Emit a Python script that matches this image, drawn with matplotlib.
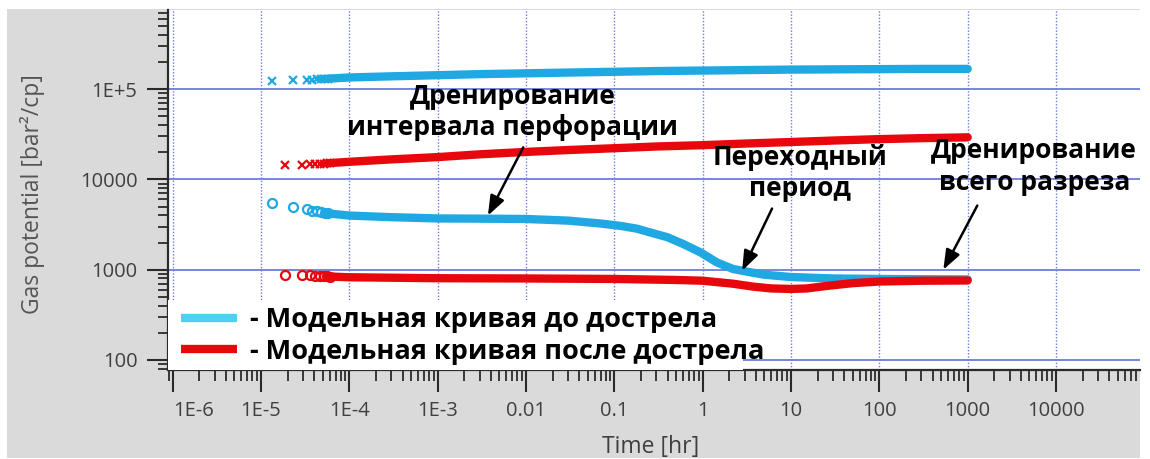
import matplotlib
matplotlib.use("Agg")
import matplotlib.pyplot as plt
from matplotlib.lines import Line2D
from matplotlib.patches import Rectangle
from matplotlib.ticker import FixedLocator, NullFormatter

# ---- data: gas potential vs time, model before / after re-perforation ----
# potential curve before re-perforation (upper, cross markers)
t_pre_pot = [1.33e-5, 2.3e-5, 3.3e-5, 3.8e-5, 4.3e-5, 4.8e-5, 5.3e-5, 5.8e-5,
             1e-4, 3e-4, 1e-3, 3e-3, 1e-2, 3e-2, 0.1, 0.3, 1, 3, 10, 30, 100, 300, 1000]
pre_pot = [1.24e5, 1.26e5, 1.27e5, 1.28e5, 1.29e5, 1.30e5, 1.30e5, 1.31e5,
           1.35e5, 1.39e5, 1.43e5, 1.47e5, 1.50e5, 1.53e5, 1.56e5, 1.59e5, 1.61e5,
           1.63e5, 1.65e5, 1.66e5, 1.67e5, 1.68e5, 1.68e5]

# potential curve after re-perforation (upper, cross markers)
t_post_pot = [1.87e-5, 2.9e-5, 3.6e-5, 4.1e-5, 4.6e-5, 5.1e-5, 5.6e-5, 6.1e-5,
              1e-4, 3e-4, 1e-3, 3e-3, 1e-2, 3e-2, 0.1, 0.3, 1, 3, 10, 30, 100, 300, 1000]
post_pot = [1.43e4, 1.45e4, 1.47e4, 1.48e4, 1.49e4, 1.50e4, 1.51e4, 1.52e4,
            1.57e4, 1.67e4, 1.77e4, 1.90e4, 2.02e4, 2.12e4, 2.22e4, 2.32e4, 2.40e4,
            2.50e4, 2.60e4, 2.70e4, 2.80e4, 2.87e4, 2.93e4]

# derivative before re-perforation (lower, circle markers)
t_pre_der = [1.33e-5, 2.3e-5, 3.3e-5, 3.8e-5, 4.3e-5, 4.8e-5, 5.3e-5, 5.8e-5,
             1e-4, 3e-4, 1e-3, 3e-3, 1e-2, 3e-2, 7e-2, 0.12, 0.18, 0.25, 0.4, 0.6,
             0.94, 1.46, 2.2, 3.5, 5, 10, 30, 100, 300, 1000]
pre_der = [5550, 5000, 4650, 4520, 4420, 4330, 4260, 4200,
           3980, 3820, 3700, 3680, 3650, 3500, 3250, 3050, 2850, 2600, 2290, 1930,
           1560, 1200, 1020, 935, 880, 830, 800, 790, 785, 780]

# derivative after re-perforation (lower, circle markers)
t_post_der = [1.87e-5, 2.9e-5, 3.6e-5, 4.1e-5, 4.6e-5, 5.1e-5, 5.6e-5, 6.1e-5,
              1e-4, 1e-3, 1e-2, 0.1, 0.5, 1, 2.2, 3.7, 6, 10, 15, 25, 50, 100, 300, 1000]
post_der = [880, 875, 865, 860, 855, 850, 845, 840,
            825, 805, 800, 790, 770, 755, 700, 650, 620, 612, 620, 660, 710, 740, 755, 760]

x_ticks = [1e-6, 1e-5, 1e-4, 1e-3, 1e-2, 0.1, 1, 10, 100, 1000, 1e4]
x_labels = ["1E-6", "1E-5", "1E-4", "1E-3", "0.01", "0.1", "1", "10", "100", "1000", "10000"]
y_ticks = [100, 1000, 1e4, 1e5]
y_labels = ["100", "1000", "10000", "1E+5"]

legend_labels = ["- Модельная кривая до дострела", "- Модельная кривая после дострела"]

# ---- style ----
BLUE = "#1fa8e2"
RED = "#e8070d"
BLUE_LEG = "#4fd0f0"
GRID = "#6b7ddc"
TXT = "#404040"
FONT = "Open Sans"

W, H = 1150, 459
fig = plt.figure(figsize=(W / 100, H / 100), dpi=100)
fig.patch.set_facecolor("white")

# grey panel behind the axes
fig.patches.append(Rectangle((7 / W, 1 / H), (1140 - 7) / W, (458 - 9) / H,
                             transform=fig.transFigure, facecolor="#dadada",
                             edgecolor="none", zorder=-5))

ax = fig.add_axes([168 / W, (H - 370) / H, (1140 - 168) / W, 360 / H])
ax.set_facecolor("white")
ax.set_xscale("log")
ax.set_yscale("log")
ax.set_xlim(8.85e-7, 8.93e4)
ax.set_ylim(77.4, 7.55e5)

for s in ("top", "right"):
    ax.spines[s].set_visible(False)
for s in ("left", "bottom"):
    ax.spines[s].set_color("#2a2a2a")
    ax.spines[s].set_linewidth(1.6)

ax.xaxis.set_major_locator(FixedLocator(x_ticks))
ax.set_xticklabels(x_labels)
ax.yaxis.set_major_locator(FixedLocator(y_ticks))
ax.set_yticklabels(y_labels)
x_minor = [m * 10.0 ** e for e in range(-7, 5) for m in range(2, 10)]
y_minor = [m * 10.0 ** e for e in range(1, 6) for m in range(2, 10)]
ax.xaxis.set_minor_locator(FixedLocator(x_minor))
ax.yaxis.set_minor_locator(FixedLocator(y_minor))
ax.xaxis.set_minor_formatter(NullFormatter())
ax.yaxis.set_minor_formatter(NullFormatter())

ax.tick_params(axis="both", which="major", direction="out", color="#2a2a2a",
               width=1.5, labelcolor=TXT, labelsize=14.5)
ax.tick_params(axis="both", which="minor", direction="out", color="#2a2a2a", width=1.3)
ax.tick_params(axis="x", which="major", length=16, pad=6)
ax.tick_params(axis="x", which="minor", length=8)
ax.tick_params(axis="y", which="major", length=15, pad=7)
ax.tick_params(axis="y", which="minor", length=7)
for lab in ax.get_xticklabels() + ax.get_yticklabels():
    lab.set_family(FONT)
ax.get_xticklabels()[0].set_horizontalalignment("left")

# grid: solid horizontal, dotted vertical
for yv in y_ticks:
    ax.axhline(yv, color=GRID, lw=1.3, zorder=1)
for xv in x_ticks:
    ax.axvline(xv, color=GRID, lw=1.0, ls=(0, (1, 1.3)), zorder=1)

ax.set_xlabel("Time [hr]", family=FONT, fontsize=16.5, color=TXT)
ax.set_ylabel("Gas potential [bar²/cp]", family=FONT, fontsize=16.5, color="#555555")
ax.xaxis.set_label_coords(0.497, -0.18)
ax.yaxis.set_label_coords(-0.127, 0.49)

# ---- series: sparse early markers, then a dense band ----
BAND = 6.0
series = [
    (t_pre_pot, pre_pot, BLUE, "x"),
    (t_post_pot, post_pot, RED, "x"),
    (t_pre_der, pre_der, BLUE, "o"),
    (t_post_der, post_der, RED, "o"),
]
for t, v, c, m in series:
    ax.plot(t[6:], v[6:], color=c, lw=BAND, solid_capstyle="round",
            solid_joinstyle="round", zorder=3)
    if m == "x":
        ax.plot(t[:8], v[:8], ls="none", marker="x", ms=6, mew=1.6, color=c, zorder=3)
    else:
        ax.plot(t[:8], v[:8], ls="none", marker="o", ms=6.5, mew=1.6,
                mfc="none", mec=c, zorder=3)

# white band behind the legend
ax.add_patch(Rectangle((0.0, 0.0), (743 - 168) / 972, 70 / 360,
                       transform=ax.transAxes, facecolor="white",
                       edgecolor="none", zorder=4))
handles = [Line2D([], [], color=BLUE_LEG, lw=6, solid_capstyle="butt"),
           Line2D([], [], color=RED, lw=6, solid_capstyle="butt")]
leg = ax.legend(handles, legend_labels, loc="lower left", bbox_to_anchor=(0.008, 0.0),
                frameon=False, handlelength=2.05, handletextpad=0.5,
                labelspacing=0.2, borderpad=0.1, borderaxespad=0.1,
                prop={"family": FONT, "weight": "bold", "size": 19.5})
leg.set_zorder(6)

# ---- annotations ----
ann_font = {"family": FONT, "weight": "bold", "size": 19, "color": "black"}
ax.text(7.1e-3, 5.55e4, "Дренирование\nинтервала перфорации", ha="center",
        va="center", linespacing=1.2, zorder=7, **ann_font)
ax.text(12.7, 1.17e4, "Переходный\nпериод", ha="center", va="center",
        linespacing=1.2, zorder=7, **ann_font)
ax.text(5680, 1.39e4, "Дренирование\nвсего разреза", ha="center", va="center",
        linespacing=1.2, zorder=7, **ann_font)

arrow_style = dict(arrowstyle="-|>,head_length=1.2,head_width=0.45", color="black",
                   lw=1.8, shrinkA=0, shrinkB=0)
ax.annotate("", xy=(3.7e-3, 3980), xytext=(9.3e-3, 2.27e4), arrowprops=arrow_style, zorder=7)
ax.annotate("", xy=(2.8, 975), xytext=(6.1, 4760), arrowprops=arrow_style, zorder=7)
ax.annotate("", xy=(530, 1000), xytext=(1285, 5140), arrowprops=arrow_style, zorder=7)

fig.savefig("out.png", dpi=100)
